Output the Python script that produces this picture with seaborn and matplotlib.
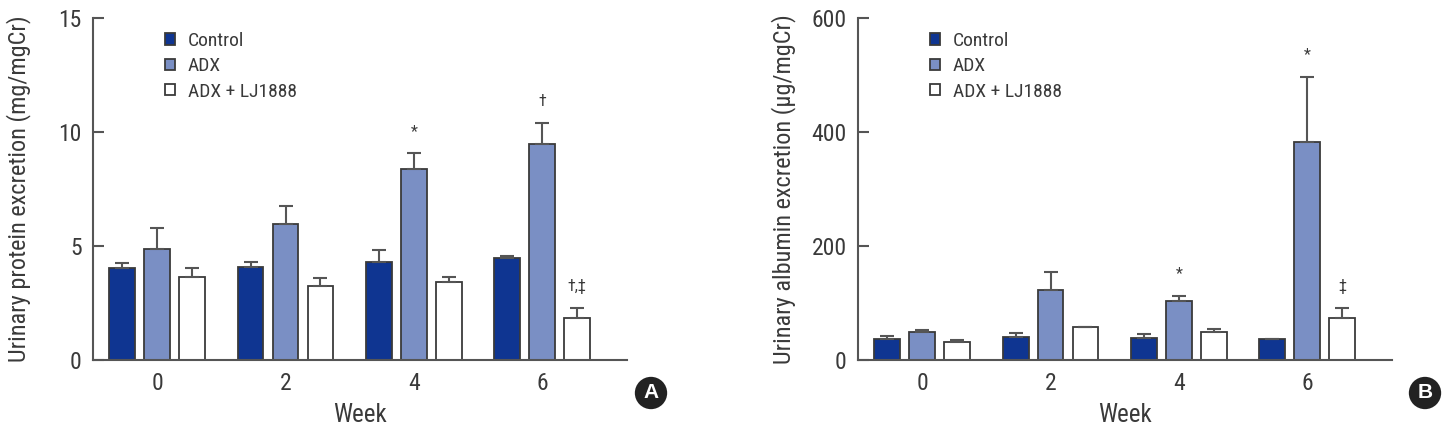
import numpy as np
import pandas as pd
import matplotlib
matplotlib.use("Agg")
import matplotlib.pyplot as plt
import seaborn as sns

# ---------------- data ----------------
weeks = ["0", "2", "4", "6"]
groups = ["Control", "ADX", "ADX + LJ1888"]

protein_control = [4.02, 4.09, 4.31, 4.49]
protein_adx = [4.85, 5.96, 8.36, 9.46]
protein_lj = [3.63, 3.25, 3.43, 1.86]
protein_control_err = [0.22, 0.22, 0.51, 0.08]
protein_adx_err = [0.93, 0.79, 0.70, 0.92]
protein_lj_err = [0.39, 0.33, 0.22, 0.41]

albumin_control = [36.8, 40.9, 39.2, 36.3]
albumin_adx = [48.6, 122.8, 103.5, 383.0]
albumin_lj = [32.2, 57.3, 49.7, 74.2]
albumin_control_err = [5, 6, 6, 1]
albumin_adx_err = [4, 32, 9, 113]
albumin_lj_err = [3, 1, 4, 16.5]

protein_yticks = [0, 5, 10, 15]
albumin_yticks = [0, 200, 400, 600]

# annotations: (week, group, text)
protein_marks = [("4", "ADX", "*"), ("6", "ADX", "†"), ("6", "ADX + LJ1888", "†,‡")]
albumin_marks = [("4", "ADX", "*"), ("6", "ADX", "*"), ("6", "ADX + LJ1888", "‡")]

# ---------------- style ----------------
sns.set_style("white")
plt.rcParams["font.family"] = ["Roboto Condensed", "Archivo Narrow", "DejaVu Sans"]
TEXT = "#3a3a3a"
AXC = "#555555"
palette = {"Control": "#0f3591", "ADX": "#7a8fc4", "ADX + LJ1888": "#ffffff"}


def make_df(c, a, l, ce, ae, le):
    rows = []
    for vals, errs, g in ((c, ce, groups[0]), (a, ae, groups[1]), (l, le, groups[2])):
        for w, v, e in zip(weeks, vals, errs):
            rows.append({"week": w, "group": g, "value": v, "err": e})
    return pd.DataFrame(rows)


df_p = make_df(protein_control, protein_adx, protein_lj,
               protein_control_err, protein_adx_err, protein_lj_err)
df_a = make_df(albumin_control, albumin_adx, albumin_lj,
               albumin_control_err, albumin_adx_err, albumin_lj_err)

fig = plt.figure(figsize=(14.5, 4.33), dpi=100)
axA = fig.add_axes([0.0641, 0.1686, 0.3683, 0.7898])
axB = fig.add_axes([0.5917, 0.1686, 0.3683, 0.7898])


def draw(ax, df, yticks, ylabel, marks, badge, badge_x):
    sns.barplot(data=df, x="week", y="value", hue="group", order=weeks,
                hue_order=groups, palette=palette, width=0.817, gap=0.26,
                edgecolor="#3a3a3a", linewidth=1.3, errorbar=None, ax=ax,
                saturation=1)
    bar_conts = list(ax.containers)[:len(groups)]
    ymax = yticks[-1]
    # error bars (upper only)
    for gi, cont in enumerate(bar_conts):
        g = groups[gi]
        sub = df[df.group == g].set_index("week")
        for wi, bar in enumerate(cont):
            w = weeks[wi]
            x = bar.get_x() + bar.get_width() / 2
            h = bar.get_height()
            ax.errorbar([x], [h], yerr=[[0], [sub.loc[w, "err"]]], fmt="none",
                        ecolor="#555555", elinewidth=1.5, capsize=4.8,
                        capthick=1.5, zorder=1)
    # significance marks
    for w, g, t in marks:
        gi = groups.index(g)
        wi = weeks.index(w)
        bar = bar_conts[gi][wi]
        x = bar.get_x() + bar.get_width() / 2
        top = bar.get_height() + df[(df.group == g) & (df.week == w)]["err"].iloc[0]
        ax.annotate(t, (x, top), xytext=(0, 16), textcoords="offset points",
                    ha="center", va="center", fontsize=11.5, color=TEXT)

    ax.set_xlim(-0.5, 3.66)
    ax.set_ylim(0, ymax)
    ax.set_yticks(yticks)
    ax.set_yticklabels([str(t) for t in yticks])
    sns.despine(ax=ax)
    for s in ("left", "bottom"):
        ax.spines[s].set_color(AXC)
        ax.spines[s].set_linewidth(1.5)
    ax.tick_params(axis="y", direction="in", length=8, width=1.5, color=AXC,
                   labelsize=17, labelcolor=TEXT, pad=8, left=True)
    ax.tick_params(axis="x", length=0, labelsize=17, labelcolor=TEXT, pad=9)
    ax.set_xlabel("Week", fontsize=18, color=TEXT)
    ax.set_ylabel(ylabel, fontsize=17.5, color=TEXT)
    ax.xaxis.set_label_coords(0.5, -0.125)
    ax.yaxis.set_label_coords(-0.116, 0.5)

    handles, labels = ax.get_legend_handles_labels()
    if ax.get_legend() is not None:
        ax.get_legend().remove()
    ax.legend(handles, labels, frameon=False, loc="upper left",
              bbox_to_anchor=(0.12, 0.982), handlelength=0.52,
              handleheight=0.52, handletextpad=0.67, labelspacing=0.38,
              fontsize=14, labelcolor=TEXT, borderaxespad=0)

    fig.text(badge_x, 1 - 393 / 433, badge, ha="center", va="center",
             fontsize=15, fontweight="bold", color="white",
             family=["Liberation Sans", "DejaVu Sans"],
             bbox=dict(boxstyle="circle,pad=0.32", fc="#222222", ec="none"))


draw(axA, df_p, protein_yticks, "Urinary protein excretion (mg/mgCr)",
     protein_marks, "A", 651 / 1450)
draw(axB, df_a, albumin_yticks, "Urinary albumin excretion (µg/mgCr)",
     albumin_marks, "B", 1425 / 1450)

fig.savefig("out.png", dpi=100, facecolor="white")
